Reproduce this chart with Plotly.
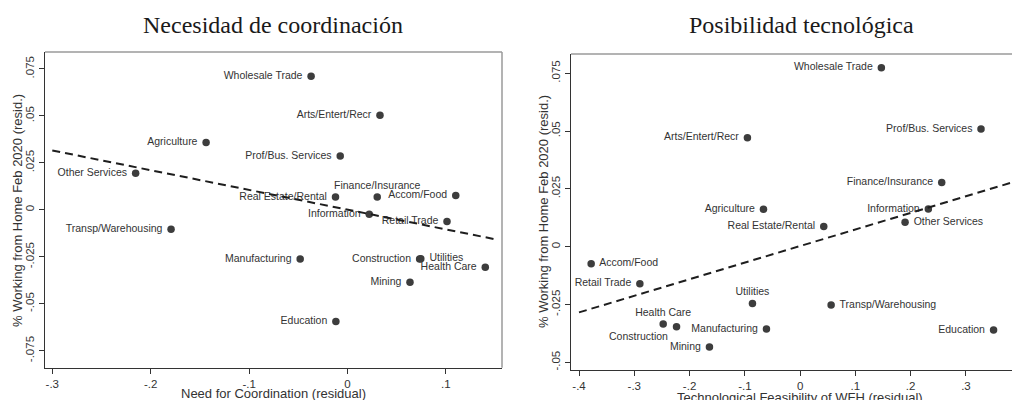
import plotly.graph_objects as go

# ---------------- data ----------------
sectors_l = ["Wholesale Trade", "Arts/Entert/Recr", "Agriculture", "Prof/Bus. Services",
             "Other Services", "Real Estate/Rental", "Finance/Insurance", "Accom/Food",
             "Information", "Retail Trade", "Transp/Warehousing", "Manufacturing",
             "Construction", "Utilities", "Health Care", "Mining", "Education"]
coord_x = [-0.037, 0.033, -0.1437, -0.0074, -0.2153, -0.0122, 0.0302, 0.110,
           0.0221, 0.1011, -0.1793, -0.0481, 0.0733, 0.0745, 0.140, 0.0635, -0.0118]
coord_y = [0.0711, 0.0504, 0.0358, 0.0286, 0.0195, 0.0069, 0.0069, 0.0076,
           -0.0023, -0.0062, -0.0103, -0.0262, -0.0262, -0.0260, -0.0305, -0.0385, -0.0594]
pos_l = ["middle left"] * 6 + ["top center", "middle left", "middle left", "middle left",
         "middle left", "middle left", "middle left", "middle right", "middle left",
         "middle left", "middle left"]
fit_l_x = [-0.300, 0.1496]
fit_l_y = [0.0316, -0.0156]

sectors_r = ["Wholesale Trade", "Prof/Bus. Services", "Arts/Entert/Recr", "Finance/Insurance",
             "Agriculture", "Information", "Other Services", "Real Estate/Rental",
             "Accom/Food", "Retail Trade", "Utilities", "Transp/Warehousing",
             "Health Care", "Construction", "Manufacturing", "Mining", "Education"]
tech_x = [0.147, 0.3273, -0.0953, 0.2562, -0.0663, 0.232, 0.1899, 0.0428,
          -0.378, -0.2899, -0.0862, 0.0561, -0.2477, -0.2236, -0.0609, -0.164, 0.350]
tech_y = [0.0774, 0.0509, 0.0471, 0.0277, 0.0162, 0.0163, 0.0106, 0.0087,
          -0.0074, -0.0160, -0.0245, -0.0252, -0.0334, -0.0346, -0.0356, -0.0434, -0.0360]
pos_r = ["middle left", "middle left", "middle left", "middle left", "middle left",
         "middle left", "middle right", "middle left", "middle right", "middle left",
         "top center", "middle right", "top center", "bottom left", "middle left",
         "middle left", "middle left"]
fit_r_x = [-0.400, 0.420]
fit_r_y = [-0.0284, 0.0304]

yt_l = [-0.075, -0.05, -0.025, 0, 0.025, 0.05, 0.075]
yt_l_txt = ["-.075", "-.05", "-.025", "0", ".025", ".05", ".075"]
xt_l = [-0.3, -0.2, -0.1, 0, 0.1]
xt_l_txt = ["-.3", "-.2", "-.1", "0", ".1"]
yt_r = [-0.05, -0.025, 0, 0.025, 0.05, 0.075]
yt_r_txt = ["-.05", "-.025", "0", ".025", ".05", ".075"]
xt_r = [-0.4, -0.3, -0.2, -0.1, 0, 0.1, 0.2, 0.3, 0.4]
xt_r_txt = ["-.4", "-.3", "-.2", "-.1", "0", ".1", ".2", ".3", ".4"]

# ---------------- style ----------------
OFF = 8                      # default page body margin
W, H = 1020 - OFF, 400 - OFF
MK = "#3d3d3d"
TXT = "#333333"
AX = "#333333"
BORDER = "#9a9a9a"
SANS = "Liberation Sans, Arial, sans-serif"
SERIF = "Liberation Serif, Times New Roman, serif"

def px(x):
    return (x - OFF) / W

def py(y):
    return 1 - (y - OFF) / H

fig = go.Figure()

for xs, ys, names, pos, fx, fy, xa, ya in [
    (coord_x, coord_y, sectors_l, pos_l, fit_l_x, fit_l_y, "x", "y"),
    (tech_x, tech_y, sectors_r, pos_r, fit_r_x, fit_r_y, "x2", "y2"),
]:
    fig.add_trace(go.Scatter(
        x=xs, y=ys, mode="markers+text", text=[" " + n + " " for n in names],
        textposition=pos, textfont=dict(family=SANS, size=10.5, color=TXT),
        marker=dict(size=7.5, color=MK), xaxis=xa, yaxis=ya, showlegend=False,
        cliponaxis=False))
    fig.add_trace(go.Scatter(
        x=fx, y=fy, mode="lines", line=dict(color="#1e1e1e", width=2, dash="8px,5px"),
        xaxis=xa, yaxis=ya, showlegend=False))

axis_common = dict(showgrid=False, zeroline=False, showline=True, linecolor=AX,
                   linewidth=1.3, ticks="outside", ticklen=5, tickcolor=AX, tickwidth=1,
                   tickfont=dict(family=SANS, size=11.5, color=TXT), automargin=False,
                   fixedrange=True)

fig.update_layout(
    width=W, height=H, margin=dict(l=0, r=0, t=0, b=0),
    paper_bgcolor="white", plot_bgcolor="white",
    xaxis=dict(domain=[px(45), px(502)], range=[-0.3074, 0.157], anchor="y",
               tickmode="array", tickvals=xt_l, ticktext=xt_l_txt, **axis_common),
    yaxis=dict(domain=[py(367.7), py(52)], range=[-0.084, 0.084], anchor="x",
               tickmode="array", tickvals=yt_l, ticktext=yt_l_txt, tickangle=-90,
               **axis_common),
    xaxis2=dict(domain=[px(571), 1.0], range=[-0.4145, (1020 - 800) / 553.0], anchor="y2",
                tickmode="array", tickvals=xt_r, ticktext=xt_r_txt, **axis_common),
    yaxis2=dict(domain=[py(370), py(54)], range=[-0.0533, 0.0833], anchor="x2",
                tickmode="array", tickvals=yt_r, ticktext=yt_r_txt, tickangle=-90,
                **axis_common),
)

# gray plot-region border (top / right)
fig.add_shape(type="line", xref="x domain", yref="y domain", x0=0, x1=1, y0=1, y1=1,
              line=dict(color=BORDER, width=1.5))
fig.add_shape(type="line", xref="x domain", yref="y domain", x0=1, x1=1, y0=0, y1=1,
              line=dict(color=BORDER, width=1.5))
fig.add_shape(type="line", xref="x2 domain", yref="y2 domain", x0=0, x1=1, y0=1, y1=1,
              line=dict(color=BORDER, width=1.5))

ann = [
    dict(text="Necesidad de coordinación", x=px(273), y=py(25), font=dict(family=SERIF, size=24, color="#1a1a1a")),
    dict(text="Posibilidad tecnológica", x=px(801), y=py(25), font=dict(family=SERIF, size=24, color="#1a1a1a")),
    dict(text="Need for Coordination (residual)", x=px(273), y=py(393), font=dict(family=SANS, size=13, color=TXT)),
    dict(text="Technological Feasibility of WFH (residual)", x=px(800), y=py(397), font=dict(family=SANS, size=13, color=TXT)),
    dict(text="% Working from Home Feb 2020 (resid.)", x=px(17), y=py(211), textangle=-90, font=dict(family=SANS, size=13, color=TXT)),
    dict(text="% Working from Home Feb 2020 (resid.)", x=px(543), y=py(212), textangle=-90, font=dict(family=SANS, size=13, color=TXT)),
]
for a in ann:
    fig.add_annotation(xref="paper", yref="paper", showarrow=False,
                       xanchor="center", yanchor="middle", **a)

# last tick label of the right panel, cropped by the page edge as in the reference
fig.add_annotation(xref="x2", yref="paper", x=xt_r[-1], y=py(382), text=xt_r_txt[-1],
                   showarrow=False, xanchor="center", yanchor="middle",
                   font=dict(family=SANS, size=11.5, color=TXT))

fig.write_html("out.html")
